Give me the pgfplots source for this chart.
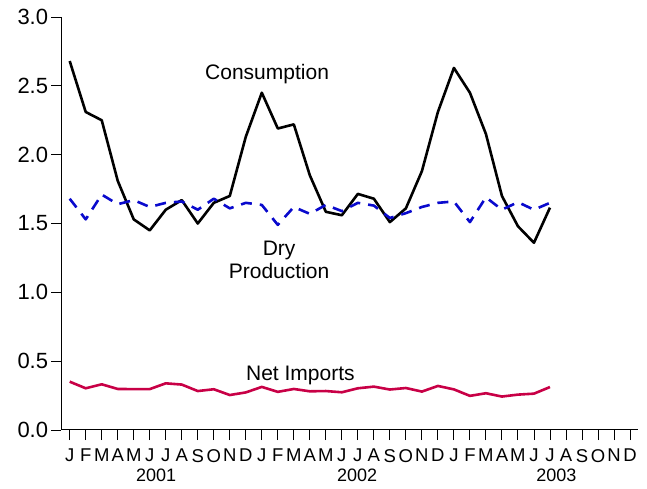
\documentclass[border=0pt]{standalone}
\usepackage{fontspec}
\setmainfont{Liberation Sans}
\usepackage{pgfplots}
\pgfplotsset{compat=1.18}
\definecolor{dryblue}{RGB}{10,10,205}
\definecolor{netred}{RGB}{200,0,70}
\begin{document}
\begin{tikzpicture}[x=1pt,y=1pt]
\begin{axis}[
  at={(0,0)}, anchor=south west,
  scale only axis, width=576.7pt, height=413pt,
  xmin=-0.525, xmax=35.5, ymin=0, ymax=3,
  axis x line*=bottom, axis y line*=left,
  axis line style={-, line width=1pt, black},
  tick align=outside, major tick length=10pt,
  tick style={black, line width=0.9pt},
  xtick={0,...,35},
  xticklabels={J,F,M,A,M,J,J,A,S,O,N,D,J,F,M,A,M,J,J,A,S,O,N,D,J,F,M,A,M,J,J,A,S,O,N,D},
  x tick label style={font=\fontsize{18.5}{19}\selectfont, inner sep=0pt, yshift=-9pt},
  ytick={0,0.5,1,1.5,2,2.5,3},
  yticklabels={0.0,0.5,1.0,1.5,2.0,2.5,3.0},
  yticklabel style={font=\fontsize{22}{24}\selectfont, inner xsep=0pt, xshift=-3pt},
  clip=false,
  line join=round,
]
\addplot[black, line width=2.6pt] coordinates {
(0,2.68) (1,2.31) (2,2.25) (3,1.81) (4,1.53) (5,1.45) (6,1.60) (7,1.67) (8,1.50) (9,1.65) (10,1.70) (11,2.13)
(12,2.45) (13,2.19) (14,2.22) (15,1.85) (16,1.585) (17,1.56) (18,1.715) (19,1.68) (20,1.51) (21,1.61) (22,1.88) (23,2.31)
(24,2.63) (25,2.45) (26,2.15) (27,1.70) (28,1.48) (29,1.36) (30,1.615)};
\addplot[dryblue, line width=2.6pt, dash pattern=on 11pt off 8pt] coordinates {
(0,1.68) (1,1.53) (2,1.71) (3,1.64) (4,1.67) (5,1.62) (6,1.65) (7,1.66) (8,1.60) (9,1.68) (10,1.61) (11,1.65)
(12,1.635) (13,1.49) (14,1.62) (15,1.57) (16,1.635) (17,1.59) (18,1.65) (19,1.63) (20,1.54) (21,1.575) (22,1.62) (23,1.65)
(24,1.66) (25,1.51) (26,1.69) (27,1.60) (28,1.655) (29,1.60) (30,1.65)};
\addplot[netred, line width=2.6pt] coordinates {
(0,0.351) (1,0.303) (2,0.332) (3,0.298) (4,0.297) (5,0.297) (6,0.339) (7,0.330) (8,0.283) (9,0.296) (10,0.254) (11,0.273)
(12,0.313) (13,0.277) (14,0.298) (15,0.281) (16,0.283) (17,0.274) (18,0.303) (19,0.315) (20,0.294) (21,0.305) (22,0.279) (23,0.320)
(24,0.295) (25,0.248) (26,0.267) (27,0.243) (28,0.257) (29,0.264) (30,0.312)};
\node[anchor=base, font=\fontsize{21}{22}\selectfont] at (axis cs:12.33,2.549) {Consumption};
\node[anchor=base, font=\fontsize{21}{22}\selectfont] at (axis cs:13.08,1.267) {Dry};
\node[anchor=base, font=\fontsize{21}{22}\selectfont] at (axis cs:13.08,1.102) {Production};
\node[anchor=base, font=\fontsize{21}{22}\selectfont] at (axis cs:14.41,0.363) {Net Imports};
\node[anchor=base, font=\fontsize{18}{19}\selectfont] at ([yshift=-52pt]axis cs:5.4,0) {2001};
\node[anchor=base, font=\fontsize{18}{19}\selectfont] at ([yshift=-52pt]axis cs:17.95,0) {2002};
\node[anchor=base, font=\fontsize{18}{19}\selectfont] at ([yshift=-52pt]axis cs:30.4,0) {2003};
\end{axis}
\path (-61.3,-59) rectangle (585.7,430);
\end{tikzpicture}
\end{document}
